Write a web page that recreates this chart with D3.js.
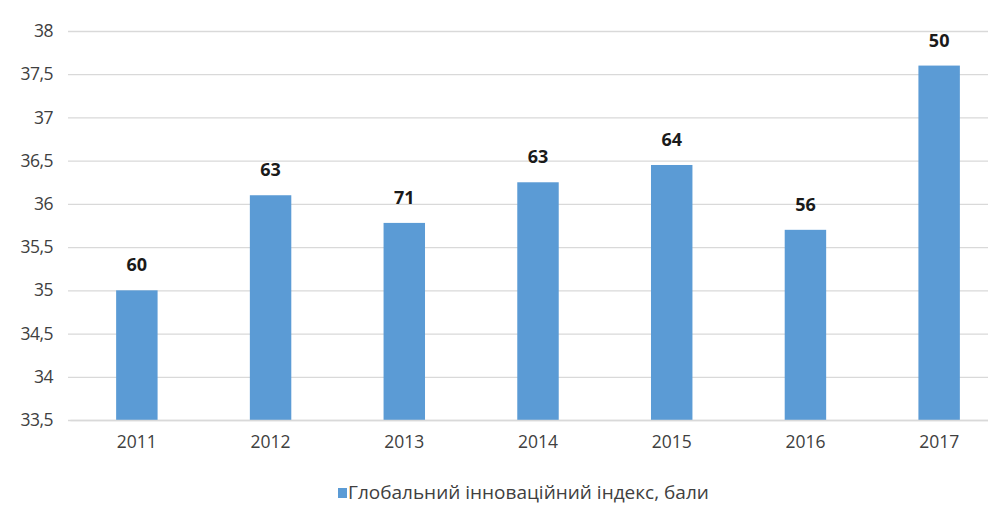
<!DOCTYPE html>
<html><head><meta charset="utf-8">
<script src="https://cdn.jsdelivr.net/npm/d3@7"></script>
<style>body{margin:0;background:#fff}svg{display:block}text{font-family:"Open Sans",sans-serif}</style>
</head><body><svg id="c" width="988" height="516"></svg>
<script>
const years = ["2011","2012","2013","2014","2015","2016","2017"];
const scores = [35.0, 36.1, 35.78, 36.25, 36.45, 35.7, 37.6];
const ranks = [60, 63, 71, 63, 64, 56, 50];
const yTicks = [33.5,34,34.5,35,35.5,36,36.5,37,37.5,38];
const legendLabel = "Глобальний інноваційний індекс, бали";

const svg = d3.select("#c");
const x = d3.scaleBand().domain(years).range([70, 1006]).paddingInner(0.69).paddingOuter(0.345);
const y = d3.scaleLinear().domain([33.5, 38]).range([420, 31]);
const fmt = d => String(d).replace(".", ",");

const yAxis = d3.axisLeft(y).tickValues(yTicks).tickFormat(fmt).tickSize(-940).tickPadding(15);
const gy = svg.append("g").attr("transform","translate(68,0)").call(yAxis);
gy.select(".domain").remove();
gy.selectAll("line").attr("stroke","#d9d9d9").attr("stroke-width",1.3);
gy.selectAll("text").attr("fill","#404040").style("font-size","17.5px").attr("letter-spacing","-0.5");

svg.append("g").selectAll("rect").data(years).join("rect")
  .attr("x", d => x(d)).attr("width", x.bandwidth())
  .attr("y", (d,i) => y(scores[i])).attr("height", (d,i) => y(33.5) - y(scores[i]))
  .attr("fill","#5b9bd5");

svg.append("g").selectAll("text").data(years).join("text")
  .attr("x", d => x(d) + x.bandwidth()/2).attr("y", (d,i) => y(scores[i]) - 19)
  .attr("text-anchor","middle").style("font-size","18px").attr("font-weight","bold").attr("fill","#1a1a1a")
  .text((d,i) => ranks[i]);

const xAxis = d3.axisBottom(x).tickSize(0).tickPadding(16);
const gx = svg.append("g").attr("transform","translate(0,420)").call(xAxis);
gx.select(".domain").attr("stroke","#d9d9d9").attr("stroke-width",1.3);
gx.selectAll("text").attr("fill","#404040").style("font-size","17.5px");

const lg = svg.append("g");
lg.append("rect").attr("x",338).attr("y",488).attr("width",9).attr("height",10).attr("fill","#5b9bd5");
lg.append("text").attr("x",348).attr("y",499).style("font-size","19px").attr("fill","#404040").text(legendLabel);
</script></body></html>
